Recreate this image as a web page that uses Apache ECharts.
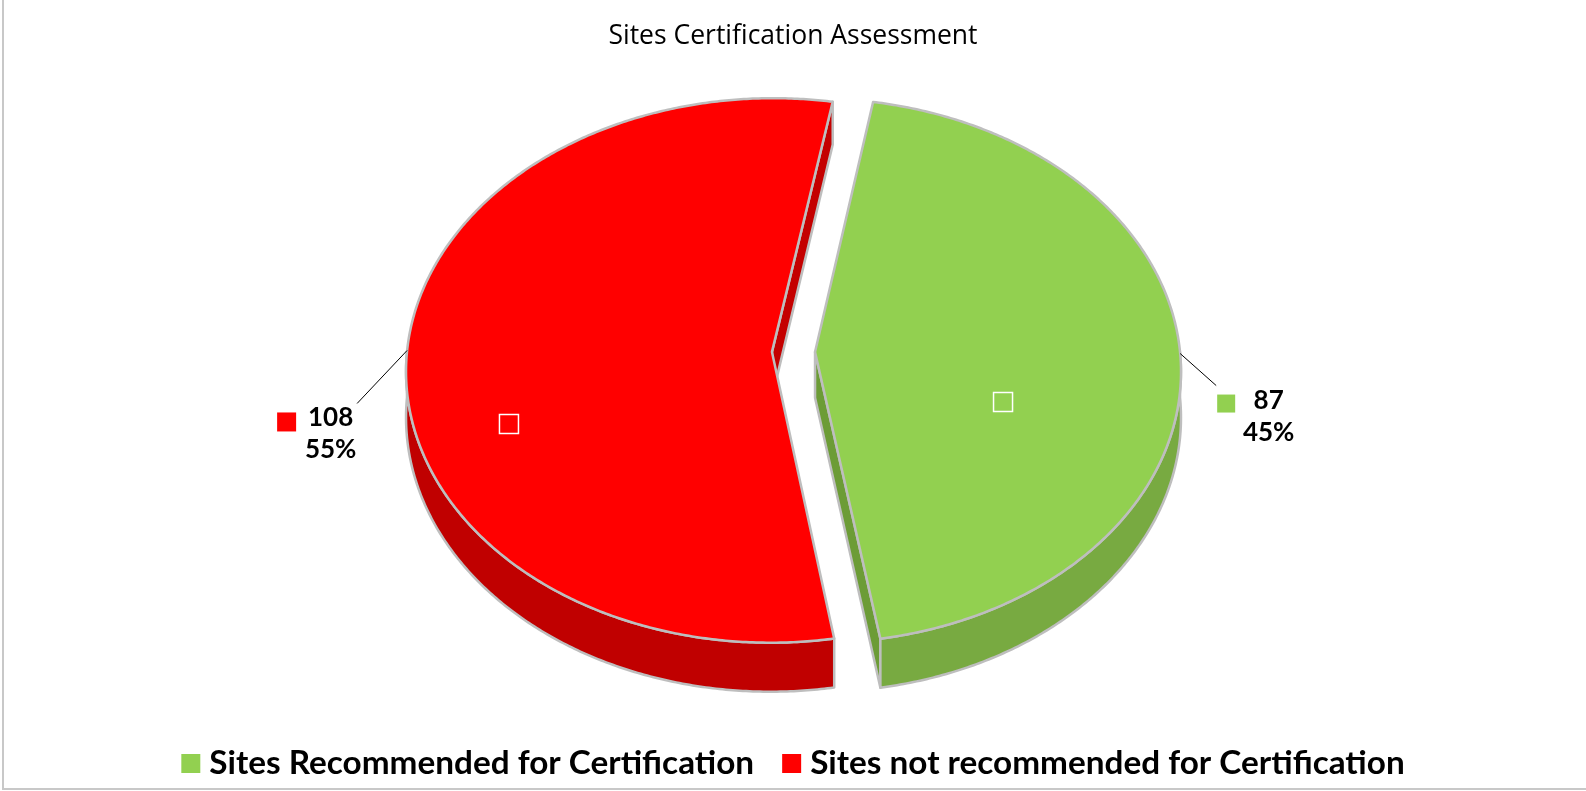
<!DOCTYPE html>
<html><head><meta charset="utf-8">
<script src="https://cdn.jsdelivr.net/npm/echarts@6/dist/echarts.min.js"></script>
<style>html,body{margin:0;padding:0;background:#fff}#c{width:1586px;height:791px}</style>
</head><body><div id="c"></div>
<script>
// ---- data ----
const categories = ['Sites Recommended for Certification', 'Sites not recommended for Certification'];
const values = [87, 108];
const colors = ['#92D050', '#FF0000'];
const sideColors = ['#78AA41', '#C00000'];
const wallColors = ['#6C9C36', '#C40000'];
const titleText = 'Sites Certification Assessment';

// ---- layout (positions / sizes) ----
const total = values.reduce((a, b) => a + b, 0);
const START = 10; // first slice angle, degrees clockwise from 12 o'clock
const G = { cx: 793.5, cy: 352, R: 365, B: 271, k: 0.068, D: 45.7, E: 0.059 };
const LAB = [
  { line: [36, 32], marker: [37, 41, 18], text: [88.5, 62.6], inner: [188, 50] },
  { line: [-50, 53], marker: [-130, 62, 19], text: [-76.5, 83.6], inner: [-263, 72] }
];
const rad = d => d * Math.PI / 180;
function proj(u, v, dz) {
  const w = 1 + G.k * v;
  return [G.cx + G.R * u / w, G.cy - G.B * v / w + (dz || 0) / w];
}
const STROKE = { stroke: '#BEBEBE', lineWidth: 2.5, lineJoin: 'round' };

function makeRender(i) {
  return function (params, api) {
    let before = 0;
    for (let j = 0; j < i; j++) before += values[j];
    const a0 = START + before / total * 360;
    const a1 = START + (before + values[i]) / total * 360;
    const mid = (a0 + a1) / 2;
    const ex = G.E * Math.sin(rad(mid)), ey = G.E * Math.cos(rad(mid));
    const P = (t, r, dz) => proj(ex + r * Math.sin(rad(t)), ey + r * Math.cos(rad(t)), dz);
    const children = [];
    // radial walls
    [[a0, -1], [a1, 1]].forEach(([t, s]) => {
      const nt = t + s * 90;
      if (Math.cos(rad(nt)) < 0) {
        children.push({ type: 'polygon', shape: { points: [P(t, 0, 0), P(t, 1, 0), P(t, 1, G.D), P(t, 0, G.D)] },
          style: Object.assign({ fill: wallColors[i] }, STROKE) });
      }
    });
    // outer curved side
    const s0 = Math.max(a0, 90), s1 = Math.min(a1, 270);
    if (s1 > s0) {
      const n = Math.ceil(s1 - s0) * 2;
      const top = [], bot = [];
      for (let q = 0; q <= n; q++) {
        const t = s0 + (s1 - s0) * q / n;
        top.push(P(t, 1, 0)); bot.push(P(t, 1, G.D));
      }
      children.push({ type: 'polygon', shape: { points: top.concat(bot.reverse()) },
        style: Object.assign({ fill: sideColors[i] }, STROKE) });
    }
    // top face
    const face = [P(mid, 0, 0)];
    const n2 = Math.ceil(a1 - a0) * 2;
    for (let q = 0; q <= n2; q++) face.push(P(a0 + (a1 - a0) * q / n2, 1, 0));
    children.push({ type: 'polygon', shape: { points: face }, style: Object.assign({ fill: colors[i] }, STROKE) });
    // inner marker square
    const apex = P(mid, 0, 0);
    const L = LAB[i];
    children.push({ type: 'rect', shape: { x: apex[0] + L.inner[0] - 9.5, y: apex[1] + L.inner[1] - 9.5, width: 19, height: 19 },
      style: { fill: 'none', stroke: '#FFFFFF', lineWidth: 1.5 } });
    // label line + label
    const rim = P(mid, 1, 0);
    children.push({ type: 'line', shape: { x1: rim[0], y1: rim[1], x2: rim[0] + L.line[0], y2: rim[1] + L.line[1] },
      style: { stroke: '#000', lineWidth: 1 } });
    children.push({ type: 'rect', shape: { x: rim[0] + L.marker[0], y: rim[1] + L.marker[1], width: L.marker[2], height: L.marker[2] },
      style: { fill: colors[i] } });
    const pct = Math.round(values[i] / total * 100) + '%';
    children.push({ type: 'text', x: rim[0] + L.text[0], y: rim[1] + L.text[1],
      style: { text: values[i] + '\n' + pct, fill: '#000', font: 'bold 26px Lato', lineHeight: 32,
        align: 'center', verticalAlign: 'middle' } });
    return { type: 'group', children: children };
  };
}

const chart = echarts.init(document.getElementById('c'), null, { renderer: 'canvas' });
chart.setOption({
  animation: false,
  backgroundColor: '#FFFFFF',
  title: { text: titleText, left: 'center', top: 23, padding: 0,
    textStyle: { fontFamily: 'Open Sans', fontWeight: 'normal', fontSize: 26.5, color: '#000' } },
  legend: { data: categories, left: 'center', top: 747, padding: 0, icon: 'rect', itemWidth: 19, itemHeight: 19,
    itemGap: 28, selectedMode: false,
    textStyle: { fontFamily: 'Lato', fontWeight: 'bold', fontSize: 33.3, color: '#000', padding: [0, 0, 0, 4] } },
  graphic: [{ type: 'rect', shape: { x: 3, y: -10, width: 1600, height: 799 },
    style: { fill: 'none', stroke: '#C8C8C8', lineWidth: 2 }, silent: true }],
  series: categories.map((name, i) => ({
    type: 'custom', name: name, coordinateSystem: 'none', silent: true,
    itemStyle: { color: colors[i] },
    data: [[values[i]]],
    renderItem: makeRender(i)
  }))
});
</script></body></html>
